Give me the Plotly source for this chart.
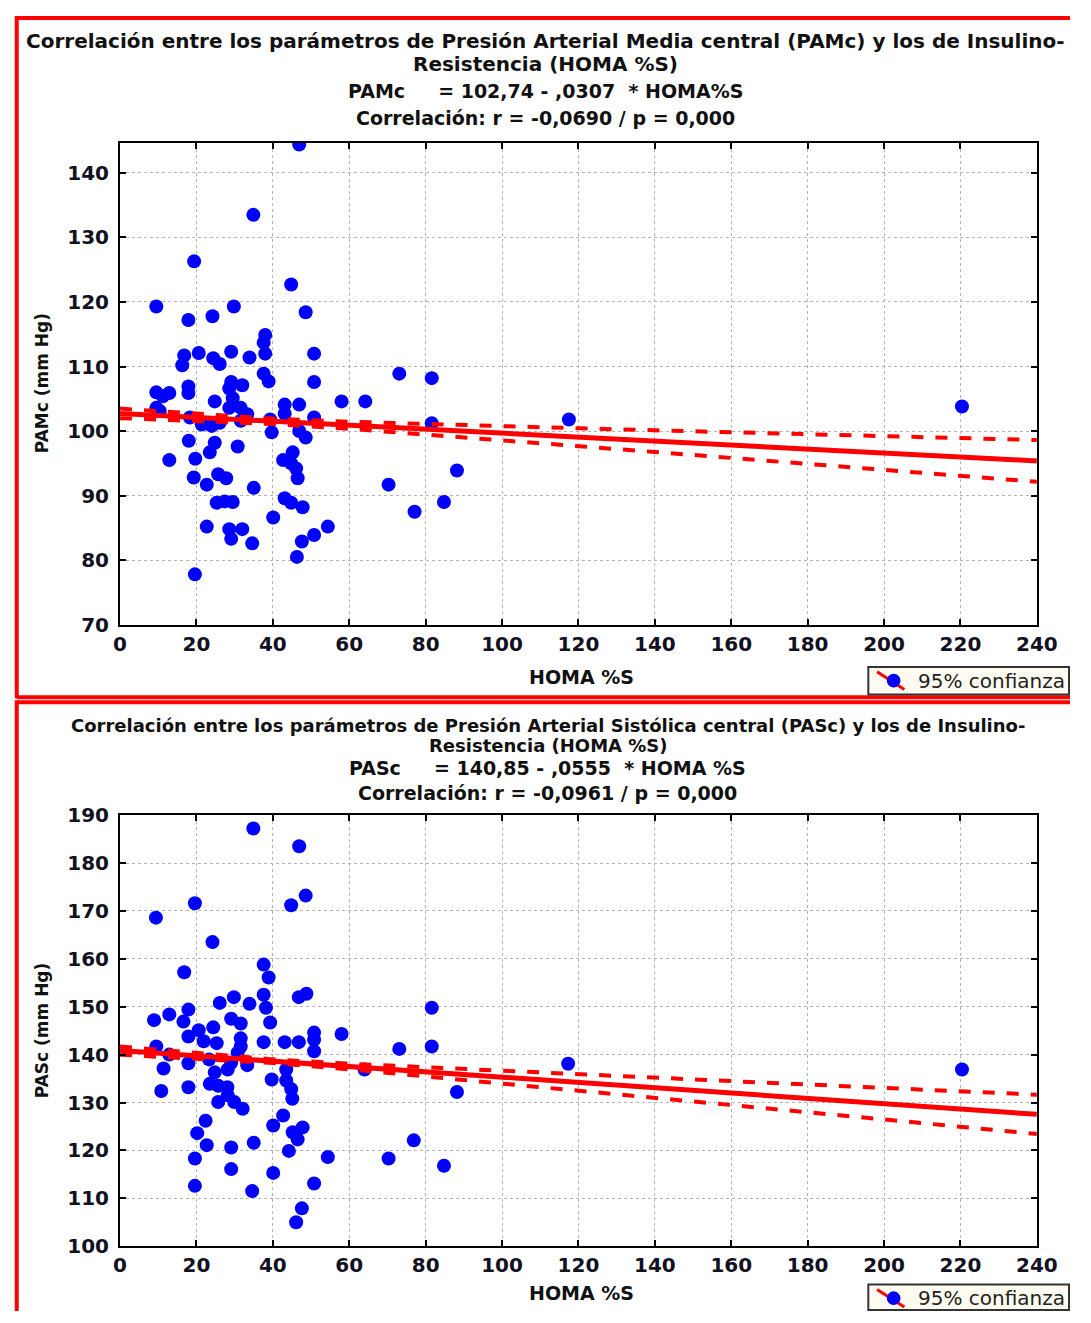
import plotly.graph_objects as go

W, H = 1091, 1323

# ---------------- data ----------------
homa_pamc = [46.9, 34.9, 19.4, 44.8, 9.5, 29.8, 17.9, 24.2, 48.6, 38.0, 37.6, 38.0, 50.8, 29.1, 16.8,
             16.3, 20.6, 24.4, 26.1, 33.9, 37.6, 38.9, 50.8, 73.1, 81.6, 29.1, 28.6, 32.0, 9.5, 12.9,
             11.2, 17.9, 17.9, 58.0, 64.2, 24.8, 29.5, 28.6, 31.6, 33.3, 43.1, 46.9, 43.1, 9.5, 10.4,
             18.3, 21.4, 24.0, 26.1, 31.6, 39.3, 50.8, 81.6, 46.9, 39.7, 48.6, 18.0, 24.8, 23.5, 30.8,
             12.9, 19.7, 45.2, 42.7, 44.8, 46.1, 46.5, 88.2, 19.3, 22.7, 25.7, 27.8, 35.0, 70.3, 25.3,
             27.4, 29.5, 43.1, 44.8, 47.8, 84.8, 77.1, 40.1, 22.7, 54.4, 28.6, 32.0, 29.1, 50.8, 47.6,
             34.6, 46.3, 19.6, 117.5, 220.4]
pamc = [144.4, 133.5, 126.3, 122.7, 119.3, 119.3, 117.2, 117.8, 118.4, 114.9, 113.7, 112.0, 112.0, 112.3, 111.7,
        110.2, 112.1, 111.3, 110.4, 111.4, 108.9, 107.7, 107.6, 108.9, 108.2, 107.6, 106.6, 107.1, 106.0, 105.9,
        105.4, 106.9, 105.9, 104.6, 104.6, 104.6, 105.1, 103.6, 103.6, 102.6, 104.1, 104.1, 102.7, 103.6, 103.1,
        102.1, 101.0, 100.8, 101.3, 101.6, 101.8, 102.1, 101.2, 100.0, 99.8, 99.0, 98.5, 98.2, 96.7, 97.6,
        95.5, 95.7, 96.7, 95.5, 95.0, 94.2, 92.7, 93.9, 92.8, 91.7, 93.3, 92.7, 91.2, 91.7, 88.9,
        89.1, 89.0, 89.6, 88.9, 88.2, 89.0, 87.5, 86.6, 85.2, 85.2, 84.8, 84.8, 83.3, 83.9, 82.9,
        82.6, 80.5, 77.8, 101.8, 103.8]

homa_pasc = [34.9, 46.9, 48.6, 44.8, 19.6, 9.4, 24.2, 37.6, 38.9, 16.8, 37.6, 46.8, 48.8, 26.1, 29.8,
             33.9, 38.2, 81.6, 17.9, 12.9, 8.9, 16.6, 29.1, 31.6, 39.3, 24.4, 20.6, 17.9, 21.9, 25.3,
             31.6, 31.6, 37.6, 43.1, 46.8, 50.8, 50.8, 58.0, 73.1, 81.6, 9.5, 50.8, 11.4, 10.8, 17.9,
             17.9, 23.3, 24.8, 28.2, 29.1, 23.5, 25.7, 28.1, 25.7, 28.2, 29.9, 32.1, 33.3, 30.8, 39.7,
             43.5, 43.5, 44.8, 45.1, 64.0, 88.2, 22.4, 20.2, 42.7, 40.1, 45.2, 47.8, 46.5, 22.7, 29.1,
             35.0, 44.2, 54.4, 70.3, 76.9, 84.8, 19.6, 29.1, 40.1, 50.8, 19.6, 34.6, 47.6, 46.1, 117.3,
             220.4, 12.9]
pasc = [187.2, 183.5, 173.2, 171.2, 171.6, 168.6, 163.5, 158.8, 156.1, 157.2, 152.5, 152.0, 152.7, 150.8, 152.0,
        150.6, 149.8, 149.8, 149.4, 148.4, 147.2, 146.9, 147.5, 146.5, 146.7, 145.7, 145.1, 143.8, 142.8, 142.4,
        143.4, 141.7, 142.6, 142.6, 142.6, 144.6, 143.1, 144.3, 141.2, 141.7, 141.7, 140.7, 137.1, 132.4, 138.2,
        133.2, 139.0, 136.3, 136.9, 138.3, 133.9, 133.5, 133.2, 130.1, 131.5, 130.1, 128.7, 137.8, 140.4, 134.8,
        136.9, 134.6, 132.8, 130.8, 136.9, 132.2, 126.2, 123.6, 127.3, 125.2, 123.8, 124.8, 122.3, 121.1, 120.6,
        121.6, 119.9, 118.6, 118.3, 122.1, 116.8, 118.3, 116.1, 115.3, 113.1, 112.6, 111.5, 107.9, 105.0, 138.1,
        136.9, 140.0]

# regression lines (from the printed equations) and 95% bands
fit_x = [0, 20, 40, 60, 80, 100, 120, 140, 160, 180, 200, 220, 240]
pamc_intercept, pamc_slope = 102.74, -0.0307
pasc_intercept, pasc_slope = 140.85, -0.0555
pamc_upper = [103.48, 102.64, 101.93, 101.45, 101.07, 100.74, 100.43, 100.12, 99.82, 99.51, 99.21, 98.92, 98.61]
pamc_lower = [102.00, 101.62, 101.09, 100.35, 99.49, 98.60, 97.69, 96.76, 95.84, 94.91, 93.99, 93.06, 92.13]
pasc_upper = [141.71, 140.27, 139.01, 138.10, 137.34, 136.61, 135.89, 135.18, 134.47, 133.76, 133.05, 132.34, 131.63]
pasc_lower = [139.99, 139.22, 138.25, 136.94, 135.48, 133.99, 132.49, 130.98, 129.48, 127.97, 126.45, 124.94, 123.43]

x_ticks = [0, 20, 40, 60, 80, 100, 120, 140, 160, 180, 200, 220, 240]
pamc_ticks = [70, 80, 90, 100, 110, 120, 130, 140]
pasc_ticks = [100, 110, 120, 130, 140, 150, 160, 170, 180, 190]

title1 = ["Correlación entre los parámetros de Presión Arterial Media central (PAMc) y los de Insulino-",
          "Resistencia (HOMA %S)",
          "PAMc\u00a0\u00a0\u00a0\u00a0 = 102,74 - ,0307\u00a0 * HOMA%S",
          "Correlación: r = -0,0690 / p = 0,000"]
title2 = ["Correlación entre los parámetros de Presión Arterial Sistólica central (PASc) y los de Insulino-",
          "Resistencia (HOMA %S)",
          "PASc\u00a0\u00a0\u00a0\u00a0 = 140,85 - ,0555\u00a0 * HOMA %S",
          "Correlación: r = -0,0961 / p = 0,000"]
x_title = "HOMA %S"
y_title1 = "PAMc (mm Hg)"
y_title2 = "PASc (mm Hg)"
legend_text = "95% confianza"

# ---------------- figure ----------------
def py(p):
    return 1 - p / H

def px(p):
    return p / W

fig = go.Figure()

BLUE = "#0000ff"
RED = "#ff0000"
FONT = "DejaVu Sans, Liberation Sans, Arial"

panels = [
    (homa_pamc, pamc, pamc_intercept, pamc_slope, pamc_upper, pamc_lower, "x", "y"),
    (homa_pasc, pasc, pasc_intercept, pasc_slope, pasc_upper, pasc_lower, "x2", "y2"),
]
for hx, hy, b0, b1, up, lo, xa, ya in panels:
    fig.add_trace(go.Scatter(x=hx, y=hy, mode="markers", xaxis=xa, yaxis=ya,
                             marker=dict(color=BLUE, size=14, line=dict(width=0)),
                             showlegend=False, cliponaxis=True, hoverinfo="skip"))
    fit_y = [b0 + b1 * v for v in fit_x]
    fig.add_trace(go.Scatter(x=fit_x, y=fit_y, mode="lines", xaxis=xa, yaxis=ya,
                             line=dict(color=RED, width=5), showlegend=False, hoverinfo="skip"))
    for band in (up, lo):
        fig.add_trace(go.Scatter(x=fit_x, y=band, mode="lines", xaxis=xa, yaxis=ya,
                                 line=dict(color=RED, width=4, dash="12px,12px"),
                                 showlegend=False, hoverinfo="skip"))

xdom = [px(116), px(1057)]
axis_common = dict(showline=True, linecolor="black", linewidth=2, mirror="ticks",
                   ticks="inside", ticklen=6, tickwidth=2, tickcolor="black",
                   showgrid=True, gridcolor="#b4b4b4", gridwidth=1, griddash="dot",
                   zeroline=False, tickfont=dict(family=FONT, size=20,
                                                 color="#111122", weight="bold"))

fig.update_layout(
    width=W, height=H, margin=dict(l=0, r=0, t=0, b=0),
    paper_bgcolor="white", plot_bgcolor="white",
    xaxis=dict(domain=xdom, range=[0, 240], tickvals=x_ticks, anchor="y", **axis_common),
    yaxis=dict(domain=[py(624), py(133)], range=[70, 144.7], tickvals=pamc_ticks, anchor="x",
               ticklabelstandoff=5, **axis_common),
    xaxis2=dict(domain=xdom, range=[0, 240], tickvals=x_ticks, anchor="y2", **axis_common),
    yaxis2=dict(domain=[py(1257), py(818)], range=[100, 190], tickvals=pasc_ticks, anchor="x2",
                ticklabelstandoff=5, **axis_common),
)

ann = []
tfont = dict(family=FONT, color="#111111", weight="bold")
for i, (t, yy) in enumerate(zip(title1, [30, 53, 80, 108])):
    ann.append(dict(text=t, x=px(553), y=py(yy), xref="paper", yref="paper", showarrow=False,
                    xanchor="center", yanchor="middle", font=dict(size=20 if i < 2 else 19, **tfont)))
for i, (t, yy) in enumerate(zip(title2, [727, 747, 770, 795])):
    ann.append(dict(text=t, x=px(555), y=py(yy), xref="paper", yref="paper", showarrow=False,
                    xanchor="center", yanchor="middle",
                    font=dict(size=18 if i < 2 else 19, **tfont)))
for yy in (677, 1305):
    ann.append(dict(text=x_title, x=px(590), y=py(yy), xref="paper", yref="paper", showarrow=False,
                    xanchor="center", yanchor="middle", font=dict(size=19, **tfont)))
for t, yy in ((y_title1, 378), (y_title2, 1037)):
    ann.append(dict(text=t, x=px(36), y=py(yy), xref="paper", yref="paper", showarrow=False,
                    textangle=-90, xanchor="center", yanchor="middle", font=dict(size=17, **tfont)))

shapes = []
def seg(x0, y0, x1, y1, color=RED, width=4):
    shapes.append(dict(type="line", xref="paper", yref="paper", x0=px(x0), x1=px(x1),
                       y0=py(y0), y1=py(y1), line=dict(color=color, width=width), layer="above"))

# red panel frames (cut by the picture edge on the right / bottom)
seg(10, 6, W, 6)
seg(10, 4, 10, 699)
seg(10, 698, W, 698)
seg(10, 703, W, 703)
seg(10, 701, 10, H)

# legend boxes
for top in (667, 1296):
    bot = min(top + 28, H - 1)
    shapes.append(dict(type="rect", xref="paper", yref="paper", x0=px(884), x1=px(W - 1), y0=py(bot), y1=py(top),
                       line=dict(color="#333333", width=2), fillcolor="#fffbf0", layer="above"))
    seg(893, top + 5, 921, top + 23, width=3)
    shapes.append(dict(type="circle", xref="paper", yref="paper", x0=px(903), x1=px(917),
                       y0=py(top + 21), y1=py(top + 7), line=dict(color=BLUE, width=0),
                       fillcolor=BLUE, layer="above"))
    ann.append(dict(text=legend_text, x=px(933), y=py(top + 14), xref="paper", yref="paper", showarrow=False,
                    xanchor="left", yanchor="middle",
                    font=dict(family=FONT, size=20, color="#222222")))

fig.update_layout(annotations=ann, shapes=shapes)
fig.write_html("out.html", config={"displayModeBar": False},
               post_script="document.body.style.margin='0';document.body.style.overflow='hidden';")
